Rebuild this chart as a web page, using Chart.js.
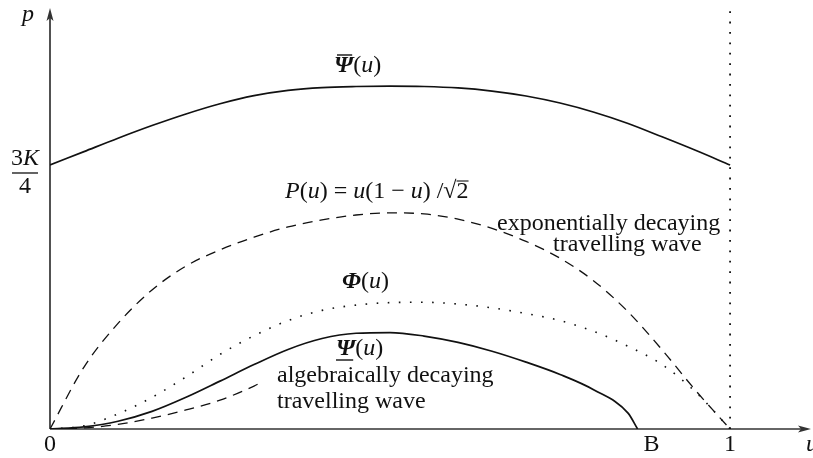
<!DOCTYPE html>
<html>
<head>
<meta charset="utf-8">
<script src="https://cdn.jsdelivr.net/npm/chart.js@4/dist/chart.umd.min.js"></script>
<style>
  html, body { margin: 0; padding: 0; background: #fff; }
  canvas { display: block; }
</style>
</head>
<body>
<canvas id="myChart" width="813" height="458"></canvas>
<script>
// u values shared by the full-width curves
const uGrid = [0, 0.05, 0.1, 0.15, 0.2, 0.25, 0.3, 0.35, 0.4, 0.45, 0.5,
               0.55, 0.6, 0.65, 0.7, 0.75, 0.8, 0.85, 0.9, 0.95, 1];

// upper solution, starts and ends at 3K/4
const psiUpper = [0.75, 0.788, 0.826, 0.862, 0.895, 0.924, 0.947, 0.962, 0.97, 0.973, 0.974,
                  0.973, 0.969, 0.96, 0.946, 0.926, 0.9, 0.868, 0.83, 0.791, 0.75];
// P(u) = u(1-u)/sqrt2, exponentially decaying wave
const pCurve = [0, 0.176, 0.3, 0.395, 0.463, 0.509, 0.545, 0.574, 0.594, 0.608, 0.614,
                0.611, 0.596, 0.57, 0.533, 0.485, 0.42, 0.333, 0.225, 0.108, 0];
// Phi(u)
const phiCurve = [0, 0.009, 0.043, 0.09, 0.148, 0.212, 0.265, 0.308, 0.337, 0.352, 0.359,
                  0.36, 0.355, 0.344, 0.328, 0.308, 0.277, 0.235, 0.183, 0.104, 0];

// lower solution, hits zero at u = B
const B = 0.864;
const uLower = [0, 0.05, 0.1, 0.15, 0.2, 0.25, 0.3, 0.35, 0.4, 0.45, 0.5,
                0.55, 0.6, 0.65, 0.7, 0.75, 0.8, 0.85, B];
const psiLower = [0, 0.006, 0.022, 0.05, 0.09, 0.136, 0.183, 0.226, 0.257, 0.272, 0.274,
                  0.264, 0.246, 0.221, 0.19, 0.155, 0.111, 0.045, 0];

// algebraically decaying wave (short branch near the origin)
const uAlg = [0, 0.05, 0.1, 0.15, 0.2, 0.25, 0.3, 0.31];
const algWave = [0, 0.003, 0.013, 0.031, 0.054, 0.082, 0.122, 0.132];

const xTicks = [0, B, 1];
const xTickLabels = ['0', 'B', '1'];
const pTick = 0.75;   // 3K/4
const pTop = 1.193;   // top of the u = 1 marker

const SERIF = '"Liberation Serif", "DejaVu Serif", serif';
const INK = '#111';

function toPts(us, ps) {
  return us.map((u, i) => ({ x: u, y: ps[i] }));
}

function fontFor(st, size) {
  if (st === 'i') return `italic ${size}px ${SERIF}`;
  if (st === 'bi') return `italic bold ${size}px ${SERIF}`;
  return `${size}px ${SERIF}`;
}

// draws a run of differently styled pieces, returns the x span of each piece
function drawRich(ctx, parts, x, y, size) {
  let cx = x;
  const spans = [];
  for (const [txt, st] of parts) {
    ctx.font = fontFor(st, size);
    ctx.fillText(txt, cx, y);
    const w = ctx.measureText(txt).width;
    spans.push([cx, cx + w]);
    cx += w;
  }
  return spans;
}

function hline(ctx, x1, x2, y, w) {
  ctx.beginPath();
  ctx.lineWidth = w || 1.3;
  ctx.moveTo(x1, y);
  ctx.lineTo(x2, y);
  ctx.stroke();
}

const axesAndLabels = {
  id: 'axesAndLabels',
  beforeDatasetsDraw(chart) {
    const ctx = chart.ctx;
    const xs = chart.scales.x, ys = chart.scales.y;
    const x0 = xs.getPixelForValue(0), y0 = ys.getPixelForValue(0);
    const right = chart.chartArea.right, top = chart.chartArea.top;
    ctx.save();
    ctx.strokeStyle = '#333';
    ctx.fillStyle = '#333';
    ctx.lineWidth = 1.7;
    // u axis
    ctx.beginPath();
    ctx.moveTo(x0, y0);
    ctx.lineTo(right - 6, y0);
    ctx.stroke();
    ctx.beginPath();
    ctx.moveTo(right, y0);
    ctx.lineTo(right - 13, y0 - 3.5);
    ctx.lineTo(right - 10, y0);
    ctx.lineTo(right - 13, y0 + 3.5);
    ctx.closePath();
    ctx.fill();
    // p axis
    ctx.beginPath();
    ctx.moveTo(x0, y0);
    ctx.lineTo(x0, top + 6);
    ctx.stroke();
    ctx.beginPath();
    ctx.moveTo(x0, top);
    ctx.lineTo(x0 - 3.5, top + 13);
    ctx.lineTo(x0, top + 10);
    ctx.lineTo(x0 + 3.5, top + 13);
    ctx.closePath();
    ctx.fill();
    ctx.restore();
  },
  afterDraw(chart) {
    const ctx = chart.ctx;
    const xs = chart.scales.x, ys = chart.scales.y;
    const px = v => xs.getPixelForValue(v);
    const py = v => ys.getPixelForValue(v);
    const size = 24;
    ctx.save();
    ctx.fillStyle = INK;
    ctx.strokeStyle = INK;
    ctx.textBaseline = 'alphabetic';

    // tick labels under the u axis
    ctx.font = fontFor('r', size);
    ctx.textAlign = 'center';
    xTicks.forEach((v, i) => {
      const off = xTickLabels[i] === 'B' ? 14 : 0;
      ctx.fillText(xTickLabels[i], px(v) + off, py(0) + 22);
    });

    // 3K/4 on the p axis
    const yt = py(pTick);
    ctx.textAlign = 'left';
    drawRich(ctx, [['3', 'r'], ['K', 'i']], 11, yt, size);
    hline(ctx, 12, 38, yt + 8, 1.3);
    ctx.font = fontFor('r', size);
    ctx.textAlign = 'center';
    ctx.fillText('4', 25, yt + 28);

    // axis names
    ctx.textAlign = 'left';
    ctx.font = fontFor('i', size);
    ctx.fillText('p', 22, 21);
    ctx.fillText('u', 806, py(0) + 22);

    // upper Psi with overbar
    let s = drawRich(ctx, [['Ψ', 'bi'], ['(', 'r'], ['u', 'i'], [')', 'r']], 334, 72, size);
    hline(ctx, s[0][0] + 3, s[0][1] - 1, 55, 1.4);

    // P(u) formula
    s = drawRich(ctx, [['P', 'i'], ['(', 'r'], ['u', 'i'], [') = ', 'r'], ['u', 'i'],
                       ['(1 − ', 'r'], ['u', 'i'], [')', 'r'], [' /', 'r'], ['√', 'r'], ['2', 'r']],
                 285, 198, size);
    hline(ctx, s[10][0], s[10][1], 181, 1.1);

    ctx.font = fontFor('r', size);
    ctx.fillText('exponentially decaying', 497, 230);
    ctx.fillText('travelling wave', 553, 251);

    // Phi
    drawRich(ctx, [['Φ', 'bi'], ['(', 'r'], ['u', 'i'], [')', 'r']], 342, 288, size);

    // lower Psi with underbar
    s = drawRich(ctx, [['Ψ', 'bi'], ['(', 'r'], ['u', 'i'], [')', 'r']], 336, 355, size);
    hline(ctx, s[0][0], s[0][1] - 2, 360, 1.4);

    ctx.font = fontFor('r', size);
    ctx.fillText('algebraically decaying', 277, 382);
    ctx.fillText('travelling wave', 277, 408);
    ctx.restore();
  }
};

const canvas = document.getElementById('myChart').getContext('2d');
const myChart = new Chart(canvas, {
  type: 'line',
  data: {
    datasets: [
      { label: 'Psi upper', data: toPts(uGrid, psiUpper), borderColor: INK, borderWidth: 1.7 },
      { label: 'P(u)', data: toPts(uGrid, pCurve), borderColor: INK, borderWidth: 1.3, borderDash: [10, 7] },
      { label: 'Phi(u)', data: toPts(uGrid, phiCurve), borderColor: INK, borderWidth: 1.6, borderDash: [1.6, 9.5] },
      { label: 'Psi lower', data: toPts(uLower, psiLower), borderColor: INK, borderWidth: 1.7 },
      { label: 'algebraic', data: toPts(uAlg, algWave), borderColor: INK, borderWidth: 1.3, borderDash: [10, 7] },
      { label: 'u = 1', data: [{ x: 1, y: 0 }, { x: 1, y: pTop }], borderColor: INK, borderWidth: 1.8,
        borderDash: [1.8, 8.6], cubicInterpolationMode: 'default', tension: 0 }
    ]
  },
  options: {
    responsive: false,
    animation: false,
    layout: { padding: { left: 50, right: 2, top: 8, bottom: 29 } },
    plugins: { legend: { display: false }, tooltip: { enabled: false } },
    elements: {
      point: { radius: 0 },
      line: { cubicInterpolationMode: 'monotone', fill: false }
    },
    scales: {
      x: { type: 'linear', min: 0, max: 1.119, display: false },
      y: { type: 'linear', min: 0, max: 1.196, display: false }
    }
  },
  plugins: [axesAndLabels]
});
</script>
</body>
</html>
